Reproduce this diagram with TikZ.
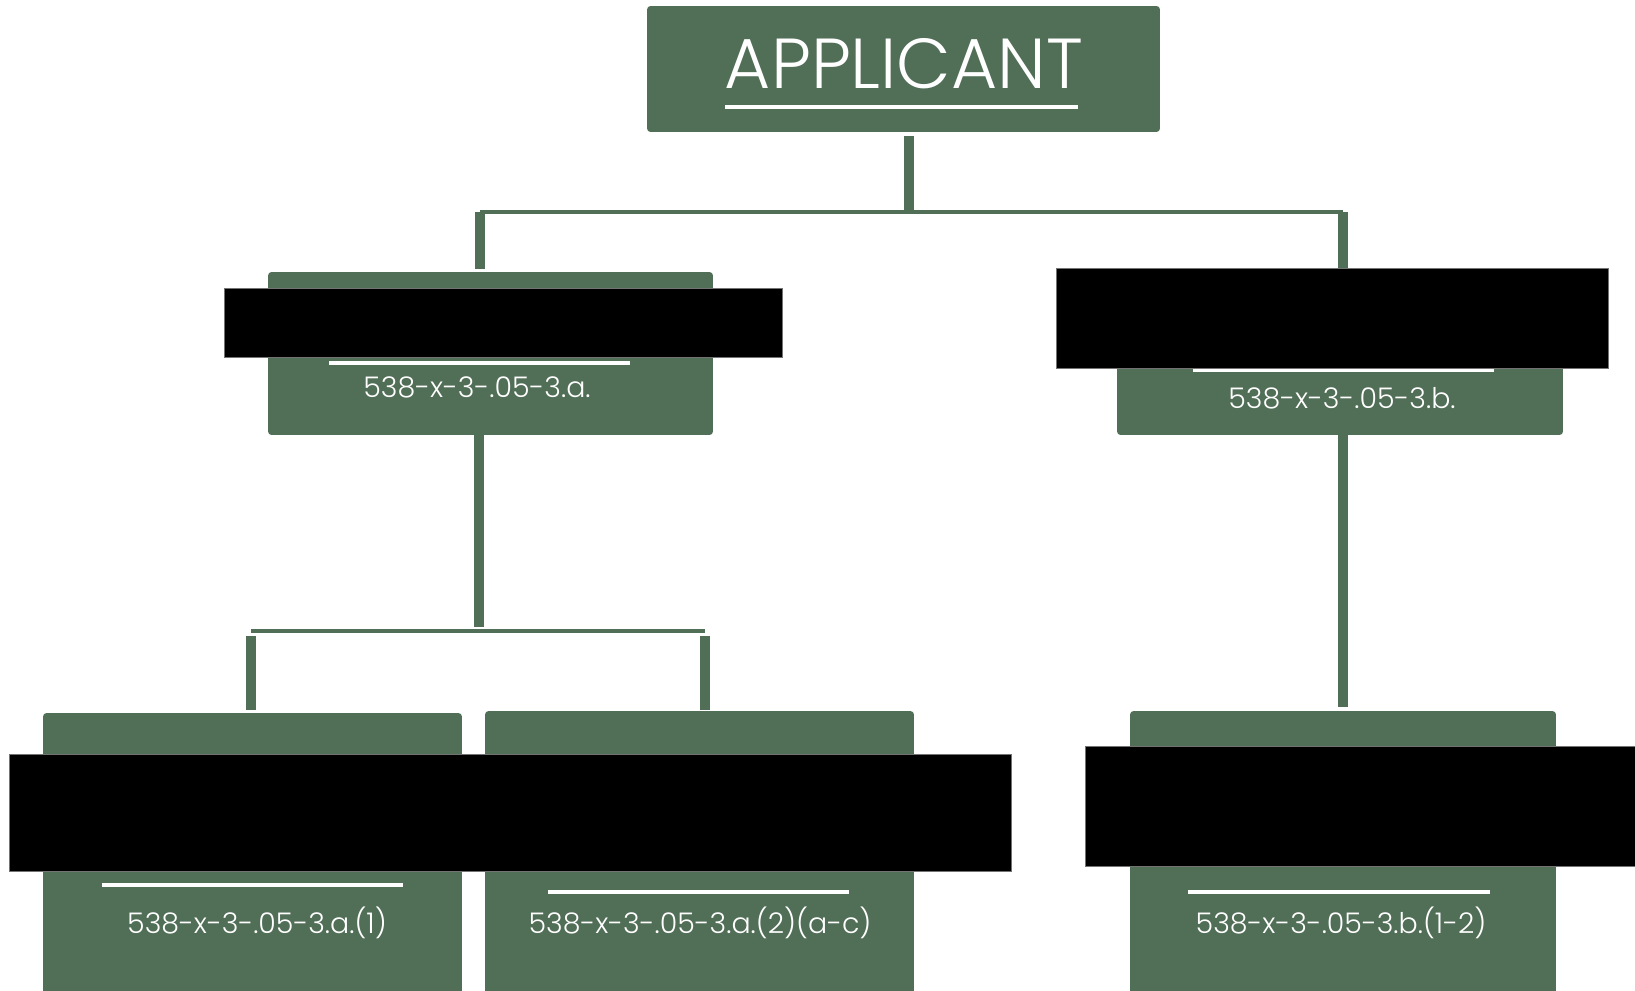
\documentclass[tikz,border=0pt]{standalone}
\usepackage{fontspec}
\setmainfont{Poppins}[UprightFont={* Light}]
\usetikzlibrary{positioning}
\definecolor{sage}{RGB}{81,110,87}

\begin{document}
\begin{tikzpicture}[x=0.02cm, y=-0.02cm]
    \tikzset{box/.style = {fill=sage, rounded corners=0.07cm, inner sep=0pt}}
    \tikzset{stem/.style = {draw=sage, line width=0.2cm}}
    \tikzset{bar/.style = {draw=sage, line width=0.08cm}}
    \tikzset{rule/.style = {draw=white, line width=0.08cm}}
    \tikzset{code/.style = {text=white, anchor=base, font=\fontsize{16.2}{18}\selectfont}}
    \tikzset{hide/.style = {fill=black, draw=black!55, line width=0.02cm}}
    \useasboundingbox (0,0) rectangle (1635,990);
    % boxes
    \node[box, minimum width=10.26cm, minimum height=2.52cm] (app) at (903.5,69) {};
    \node[box, minimum width=8.9cm, minimum height=3.26cm] (secA) at (490.5,353.5) {};
    \node[box, minimum width=8.92cm, minimum height=3.26cm] (secB) at (1340,353.5) {};
    \node[box, minimum width=8.38cm, minimum height=5.94cm] (subAone) at (252.5,861.5) {};
    \node[box, minimum width=8.58cm, minimum height=5.98cm] (subAtwo) at (699.5,860.5) {};
    \node[box, minimum width=8.52cm, minimum height=5.98cm] (subBone) at (1343,860.5) {};
    % junctions
    \coordinate (j) at (909,210);
    \coordinate (jl) at (480,212);
    \coordinate (jr) at (1343,212);
    \coordinate (ka) at (479,627);
    \coordinate (kl) at (251,631);
    \coordinate (kr) at (705,631);
    % connectors
    \draw[stem, shorten <=0.08cm] (app.south -| j) -- (j);
    \draw[bar] (jl) -- (jr);
    \draw[stem, shorten >=0.06cm] (jl) -- (jl |- secA.north);
    \draw[stem, shorten >=0.08cm] (jr) -- (jr |- secB.north);
    \draw[stem] (secA.south -| ka) -- (ka);
    \draw[bar] (kl) -- (kr);
    \draw[stem, shorten <=0.1cm, shorten >=0.06cm] (kl) -- (kl |- subAone.north);
    \draw[stem, shorten <=0.1cm, shorten >=0.02cm] (kr) -- (kr |- subAtwo.north);
    \draw[stem, shorten >=0.08cm] (secB.south -| jr) -- (jr |- subBone.north);
    % texts
    \node[text=white, font=\fontsize{40.3}{43}\selectfont] (tApp) at (904,64) {APPLICANT};
    \draw[rule] (725,107) -- (1078,107);
    \node[code] (tA) at (477,397) {538-x-3-.05-3.a.};
    \draw[rule] (329,363) -- (630,363);
    \node[code] (tB) at (1342,408) {538-x-3-.05-3.b.};
    \draw[rule] (1193,370) -- (1494,370);
    \node[code] (tAone) at (257,933) {538-x-3-.05-3.a.(1)};
    \draw[rule] (102,885) -- (403,885);
    \node[code] (tAtwo) at (700,933) {538-x-3-.05-3.a.(2)(a-c)};
    \draw[rule] (548,892) -- (849,892);
    \node[code] (tBone) at (1341,933) {538-x-3-.05-3.b.(1-2)};
    \draw[rule] (1188,892) -- (1490,892);
    % blacked out
    \filldraw[hide] (224,288) rectangle (782,357);
    \filldraw[hide] (1056,268) rectangle (1608,368);
    \filldraw[hide] (9,754) rectangle (1011,871);
    \filldraw[hide] (1085,746) rectangle (1640,866);
\end{tikzpicture}
\end{document}
